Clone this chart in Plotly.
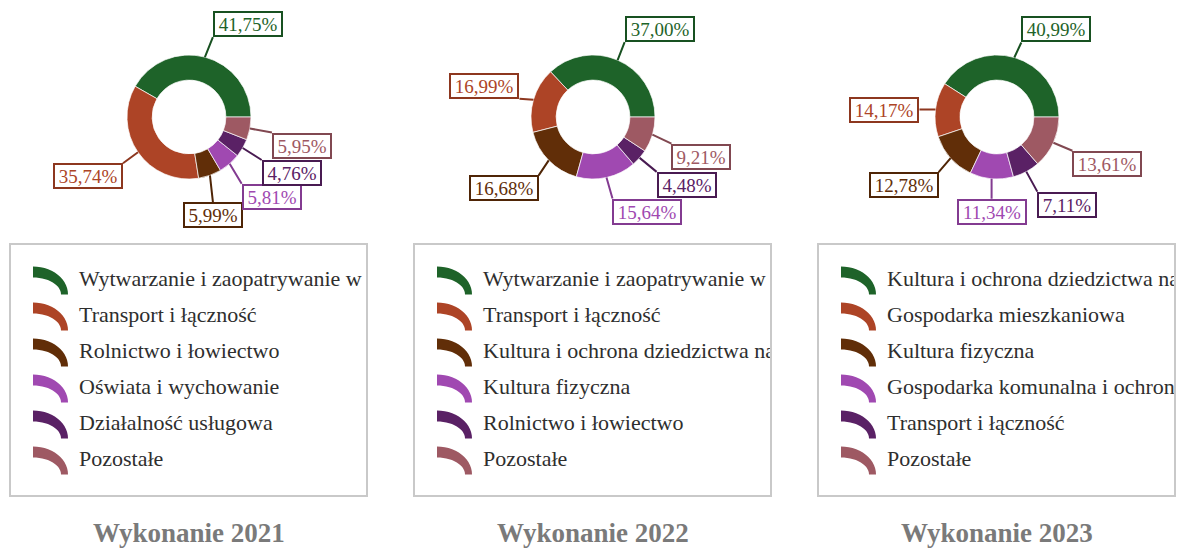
import math
import plotly.graph_objects as go

# ---------------------------------------------------------------------------
# Data: structure of expenditure (per cent) by section, one donut per year
# ---------------------------------------------------------------------------
titles = ["Wykonanie 2021", "Wykonanie 2022", "Wykonanie 2023"]

labels_2021 = [
    "Wytwarzanie i zaopatrywanie w energię elektryczną, gaz i wodę",
    "Transport i łączność",
    "Rolnictwo i łowiectwo",
    "Oświata i wychowanie",
    "Działalność usługowa",
    "Pozostałe",
]
values_2021 = [41.75, 35.74, 5.99, 5.81, 4.76, 5.95]

labels_2022 = [
    "Wytwarzanie i zaopatrywanie w energię elektryczną, gaz i wodę",
    "Transport i łączność",
    "Kultura i ochrona dziedzictwa narodowego",
    "Kultura fizyczna",
    "Rolnictwo i łowiectwo",
    "Pozostałe",
]
values_2022 = [37.00, 16.99, 16.68, 15.64, 4.48, 9.21]

labels_2023 = [
    "Kultura i ochrona dziedzictwa narodowego",
    "Gospodarka mieszkaniowa",
    "Kultura fizyczna",
    "Gospodarka komunalna i ochrona środowiska",
    "Transport i łączność",
    "Pozostałe",
]
values_2023 = [40.99, 14.17, 12.78, 11.34, 7.11, 13.61]

# ---------------------------------------------------------------------------
# Styling / layout
# ---------------------------------------------------------------------------
W, H = 1184, 551
FONT = "Liberation Serif"
slice_colors = ["#1e6329", "#ad4426", "#612e08", "#a049b1", "#5a2165", "#9e5963"]

centers_x = [189, 593, 997]   # horizontal centre of each panel (px)
CENTER_Y = 117                # donut centre (px from top)
R = 62                        # donut outer radius (px)
HOLE = 0.595

# value-label callouts: tail offset from the slice edge (px) and box anchor
callouts = [
    [(8, -20, "left", "bottom"), (-15, 11, "right", "top"), (3, 27, "center", "top"),
     (12, 20, "left", "top"), (19, 12, "left", "top"), (22, 4, "left", "top")],
    [(7, -18, "left", "bottom"), (-14, -1, "right", "bottom"), (-10, 15, "right", "top"),
     (6, 21, "left", "top"), (17, 14, "left", "top"), (19, 9, "left", "top")],
    [(7, -15, "left", "bottom"), (-16, 0, "right", "middle"), (-12, 14, "right", "top"),
     (0, 20, "center", "top"), (11, 20, "left", "top"), (19, 8, "left", "top")],
]

# legend panel geometry (px)
BOX_HALF_L, BOX_HALF_R = 179, 178
BOX_TOP, BOX_BOTTOM = 244, 496
ROW_Y0, ROW_STEP = 280, 36
TEXT_DX = -110
ICON_DX = -156
TITLE_Y = 533


def px_x(x):
    return x / W


def px_y(y):
    return 1 - y / H


def darker(hex_color, f=0.82):
    h = hex_color.lstrip("#")
    r, g, b = (int(h[i:i + 2], 16) for i in (0, 2, 4))
    return "#%02x%02x%02x" % (int(r * f), int(g * f), int(b * f))


def fmt_pct(v):
    return f"{v:.2f}".replace(".", ",") + "%"


def text_width(s, size=19):
    w = 0.0
    for ch in s:
        if ch.isdigit():
            w += 0.5
        elif ch == ",":
            w += 0.25
        elif ch == "%":
            w += 0.833
        else:
            w += 0.5
    return w * size


def icon_path(x0, yb, n=14):
    """Quarter ring icon (outer rx 35 / ry 28, inner rx 28 / ry 17)."""
    pts = []
    for k in range(n + 1):
        t = math.pi / 2 * (1 - k / n)
        pts.append((x0 + 35 * math.cos(t), yb - 28 * math.sin(t)))
    for k in range(n + 1):
        t = math.pi / 2 * (k / n)
        pts.append((x0 + 28 * math.cos(t), yb - 17 * math.sin(t)))
    return "M " + " L ".join(f"{x:.2f},{y:.2f}" for x, y in pts) + " Z"


series = [
    (labels_2021, values_2021),
    (labels_2022, values_2022),
    (labels_2023, values_2023),
]

fig = go.Figure()
annotations = []
shapes = []

for p, (labels, values) in enumerate(series):
    cx = centers_x[p]

    # donut
    fig.add_trace(go.Pie(
        labels=labels,
        values=values,
        hole=HOLE,
        sort=False,
        direction="counterclockwise",
        rotation=90 - 3.6 * values[0],
        marker=dict(colors=slice_colors, line=dict(color="rgba(255,255,255,0.7)", width=1)),
        textinfo="none",
        hoverinfo="label+percent",
        showlegend=False,
        domain=dict(x=[px_x(cx - R), px_x(cx + R)],
                    y=[px_y(CENTER_Y + R), px_y(CENTER_Y - R)]),
    ))

    # value callouts
    total = sum(values)
    cum = 0.0
    for i, v in enumerate(values):
        ang = math.radians(360.0 * (cum + v / 2) / total)
        cum += v
        hx = cx + R * math.cos(ang)
        hy = CENTER_Y - R * math.sin(ang)
        dx, dy, xa, ya = callouts[p][i]
        txt = fmt_pct(v)
        annotations.append(dict(
            x=px_x(hx), y=px_y(hy), xref="paper", yref="paper",
            ax=dx, ay=dy, axref="pixel", ayref="pixel",
            xanchor=xa, yanchor=ya,
            text=txt, showarrow=True, arrowhead=0, arrowwidth=2,
            arrowcolor=darker(slice_colors[i]),
            font=dict(family=FONT, size=19, color=slice_colors[i]),
            bgcolor="white", bordercolor=darker(slice_colors[i]),
            borderwidth=2, borderpad=0,
            width=round(text_width(txt) + 7), height=22,
        ))

    # legend panel frame
    shapes.append(dict(
        type="rect", xref="paper", yref="paper",
        x0=px_x(cx - BOX_HALF_L), x1=px_x(cx + BOX_HALF_R),
        y0=px_y(BOX_BOTTOM), y1=px_y(BOX_TOP),
        line=dict(color="#c9c9c9", width=2), fillcolor="rgba(0,0,0,0)",
    ))

    # legend entries, clipped to the panel
    ax_id = "" if p == 0 else str(p + 1)
    left, right = cx - BOX_HALF_L + 1, cx + BOX_HALF_R - 1
    top, bottom = BOX_TOP + 1, BOX_BOTTOM - 1
    fig.update_layout(**{
        f"xaxis{ax_id}": dict(domain=[px_x(left), px_x(right)], range=[left, right],
                              visible=False, fixedrange=True),
        f"yaxis{ax_id}": dict(domain=[px_y(bottom), px_y(top)], range=[bottom, top],
                              visible=False, fixedrange=True,
                              anchor=f"x{ax_id}"),
    })
    fig.layout[f"xaxis{ax_id}"].anchor = f"y{ax_id}"
    row_y = [ROW_Y0 + ROW_STEP * k for k in range(len(labels))]
    fig.add_trace(go.Scatter(
        x=[cx + TEXT_DX] * len(labels), y=row_y, text=labels,
        mode="text", textposition="middle right",
        textfont=dict(family=FONT, size=22, color="#2e2e2e"),
        cliponaxis=True, hoverinfo="skip", showlegend=False,
        xaxis=f"x{ax_id}", yaxis=f"y{ax_id}",
    ))
    for k, yy in enumerate(row_y):
        shapes.append(dict(
            type="path", xref=f"x{ax_id}", yref=f"y{ax_id}",
            path=icon_path(cx + ICON_DX, yy + 14.5),
            fillcolor=slice_colors[k], line=dict(width=0),
        ))

    # panel title
    annotations.append(dict(
        x=px_x(cx), y=px_y(TITLE_Y), xref="paper", yref="paper",
        text=titles[p], showarrow=False, xanchor="center", yanchor="middle",
        font=dict(family=FONT, size=27, color="#7a7a7a", weight="bold"),
    ))

fig.update_layout(
    width=W, height=H, autosize=False,
    margin=dict(l=0, r=0, t=0, b=0),
    paper_bgcolor="white", plot_bgcolor="rgba(0,0,0,0)",
    annotations=annotations, shapes=shapes,
    showlegend=False,
)

fig.write_html("out.html")
